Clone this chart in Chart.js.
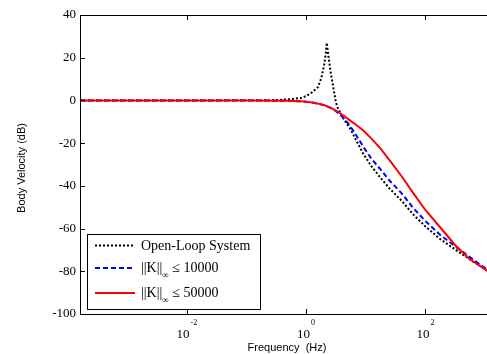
<!DOCTYPE html>
<html>
<head>
<meta charset="utf-8">
<script src="https://cdn.jsdelivr.net/npm/chart.js@4.4.0/dist/chart.umd.min.js"></script>
<style>
  html, body { margin: 0; padding: 0; background: #fff; overflow: hidden; }
  #wrap { width: 494px; height: 354px; }
</style>
</head>
<body>
<div id="wrap"><canvas id="bode" width="494" height="354"></canvas></div>
<script>
// frequency grid (Hz)
var freq = [0.000162, 0.01, 0.1, 0.316, 0.5, 0.8, 1, 1.26, 1.58, 1.8, 2.0, 2.14, 2.22, 2.35, 2.55,
  3.16, 3.4, 4, 5, 5.7, 6.3, 9, 12.6, 18, 25, 40, 63, 100, 178, 316, 562, 1000, 1413];

// body velocity (dB)
var openLoop = [0, 0, 0.05, 0.15, 0.5, 1.1, 2, 3.8, 6.2, 10.5, 16.5, 22, 27, 21.5, 14,
  -1, -3.5, -7.5, -11.5, -14, -16.5, -24.8, -31, -36.5, -41.2, -47, -53.5, -59, -65, -69.8, -74.5, -79, -82];
var k10000 = [0, 0, 0, -0.1, -0.2, -0.4, -0.6, -1, -1.5, -1.9, -2.2, -2.5, -2.7, -3, -3.5,
  -5, -5.7, -7.5, -10.5, -12.8, -14.5, -21.5, -27.5, -32.5, -37.5, -43.5, -50.5, -56.5, -63, -68.3, -73.5, -78.5, -82];
var k50000 = [0, 0, 0, -0.1, -0.2, -0.4, -0.6, -1, -1.5, -1.9, -2.2, -2.5, -2.7, -3, -3.4,
  -4.8, -5.3, -6.6, -8.6, -9.8, -10.6, -14, -18, -22.8, -27.9, -35.5, -43.5, -51.3, -59.5, -67.8, -74.5, -79, -82];

var yTicks = [40, 20, 0, -20, -40, -60, -80, -100];
var xTickExp = ["-2", "0", "2"];
var legendText = ["Open-Loop System", "10000", "50000"];

function pts(vals) {
  return freq.map(function (f, i) { return { x: f, y: vals[i] }; });
}

var SERIF = "'Liberation Serif', 'Times New Roman', serif";
var SANS = "'Liberation Sans', Arial, sans-serif";

// box, inward ticks, x labels with exponent, titles, legend
var matlabAxes = {
  id: "matlabAxes",
  afterDraw: function (chart) {
    var ctx = chart.ctx;
    var a = chart.chartArea;
    var xs = chart.scales.x;
    var ys = chart.scales.y;
    ctx.save();
    ctx.strokeStyle = "#000";
    ctx.lineWidth = 1;
    ctx.setLineDash([]);
    ctx.beginPath();
    ctx.rect(a.left + 0.5, a.top + 0.5, a.right - a.left, a.bottom - a.top);
    ctx.stroke();

    // y ticks
    ctx.beginPath();
    yTicks.forEach(function (v) {
      var py = Math.round(ys.getPixelForValue(v)) + 0.5;
      ctx.moveTo(a.left, py); ctx.lineTo(a.left + 5, py);
      ctx.moveTo(a.right, py); ctx.lineTo(a.right - 5, py);
    });
    // x ticks
    xTickExp.forEach(function (e) {
      var px = Math.round(xs.getPixelForValue(Math.pow(10, +e))) + 0.5;
      ctx.moveTo(px, a.bottom); ctx.lineTo(px, a.bottom - 5);
      ctx.moveTo(px, a.top); ctx.lineTo(px, a.top + 5);
    });
    ctx.stroke();

    // x tick labels 10^e
    ctx.fillStyle = "#000";
    ctx.textBaseline = "alphabetic";
    ctx.textAlign = "left";
    xTickExp.forEach(function (e) {
      var px = xs.getPixelForValue(Math.pow(10, +e));
      ctx.font = "13px " + SERIF;
      var wb = ctx.measureText("10").width;
      ctx.font = "8px " + SERIF;
      var we = ctx.measureText(e).width;
      var x0 = px - (wb + we + 1) / 2;
      ctx.font = "13px " + SERIF;
      ctx.fillText("10", x0, 338);
      ctx.font = "8px " + SERIF;
      ctx.fillText(e, x0 + wb + 1, 325);
    });

    // axis titles
    ctx.font = "11px " + SANS;
    ctx.textAlign = "center";
    ctx.textBaseline = "alphabetic";
    ctx.fillText("Frequency  (Hz)", (a.left + a.right) / 2, 351);
    ctx.textBaseline = "middle";
    ctx.save();
    ctx.translate(22, 168);
    ctx.rotate(-Math.PI / 2);
    ctx.fillText("Body Velocity (dB)", 0, 0);
    ctx.restore();

    // legend
    var lx = 87.5, ly = 234.5, lw = 173, lh = 75;
    ctx.fillStyle = "#fff";
    ctx.fillRect(lx, ly, lw, lh);
    ctx.strokeStyle = "#000";
    ctx.lineWidth = 1;
    ctx.strokeRect(lx, ly, lw, lh);
    var rows = [245.5, 268, 293];
    var ds = chart.data.datasets;
    rows.forEach(function (ry, i) {
      ctx.strokeStyle = ds[i].borderColor;
      ctx.lineWidth = ds[i].borderWidth;
      ctx.setLineDash(ds[i].borderDash);
      ctx.beginPath();
      ctx.moveTo(95, ry); ctx.lineTo(135, ry);
      ctx.stroke();
      ctx.setLineDash([]);
      ctx.fillStyle = "#000";
      ctx.textAlign = "left";
      ctx.textBaseline = "middle";
      ctx.font = "14px " + SERIF;
      if (i === 0) {
        ctx.fillText(legendText[0], 141, ry + 0.5);
      } else {
        var t1 = "||K||";
        ctx.fillText(t1, 141, ry);
        var w1 = ctx.measureText(t1).width;
        ctx.font = "9px " + SERIF;
        ctx.fillText("\u221e", 141 + w1, ry + 8);
        var w2 = ctx.measureText("\u221e").width;
        ctx.font = "14px " + SERIF;
        ctx.fillText(" \u2264 " + legendText[i], 141 + w1 + w2, ry);
      }
    });
    ctx.restore();
  }
};

new Chart(document.getElementById("bode"), {
  type: "line",
  data: {
    datasets: [
      {
        label: legendText[0],
        data: pts(openLoop),
        borderColor: "#000",
        borderWidth: 2,
        borderDash: [2, 2],
        pointRadius: 0,
        tension: 0,
        order: 3,
      },
      {
        label: legendText[1],
        data: pts(k10000),
        borderColor: "#0000ff",
        borderWidth: 2,
        borderDash: [5, 3],
        pointRadius: 0,
        tension: 0,
        order: 2,
      },
      {
        label: legendText[2],
        data: pts(k50000),
        borderColor: "#ff0000",
        borderWidth: 2,
        borderDash: [],
        pointRadius: 0,
        tension: 0,
        order: 1,
      },
    ],
  },
  options: {
    responsive: false,
    animation: false,
    layout: { padding: { left: 0, top: 15, right: 0, bottom: 0 } },
    plugins: {
      legend: { display: false },
      tooltip: { enabled: false },
    },
    scales: {
      x: {
        type: "logarithmic",
        min: 0.000162,
        max: 1413,
        grid: { display: false, drawTicks: false },
        border: { display: false },
        ticks: { display: false },
        afterFit: function (s) { s.height = 40; },
      },
      y: {
        min: -100,
        max: 40,
        grid: { display: false, drawTicks: false },
        border: { display: false },
        afterBuildTicks: function (s) {
          s.ticks = yTicks.map(function (v) { return { value: v }; });
        },
        ticks: {
          color: "#000",
          padding: 4,
          font: { size: 13, family: SERIF },
        },
        afterFit: function (s) { s.width = 80; },
      },
    },
  },
  plugins: [matlabAxes],
});
</script>
</body>
</html>
